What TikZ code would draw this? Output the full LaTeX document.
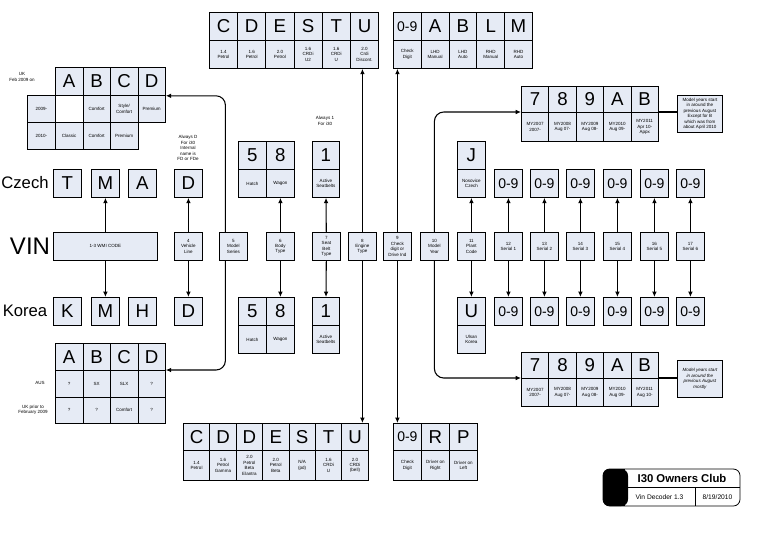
\documentclass[tikz,border=0pt]{standalone}
\usepackage{fontspec}
\setmainfont{Liberation Sans}
\usetikzlibrary{arrows.meta}
\definecolor{cfill}{HTML}{E6EBF5}
\tikzset{
 cell/.style={draw, fill=cfill, inner sep=0pt, anchor=north west, align=center, line width=0.6pt},
 bigt/.style={font=\fontsize{14}{14}\selectfont},
 numt/.style={font=\fontsize{10.5}{11}\selectfont},
 smt/.style={font=\fontsize{3.4}{4.1}\selectfont},
 lab/.style={align=center, inner sep=0pt, font=\fontsize{3.4}{4.1}\selectfont},
 arr/.style={line width=0.8pt, -{Latex[length=4pt,width=3.5pt]}},
 ln/.style={line width=0.8pt}
}
\newcommand\celB[6][bigt]{\node[cell,#1,minimum width=#4*0.75pt,minimum height=28*0.75pt] (#2) at (#3) {#5#6};}
\newcommand\celS[5]{\node[cell,smt,minimum width=#3*0.75pt,minimum height=#4*0.75pt] (#1) at (#2) {#5};}
\begin{document}
\begin{tikzpicture}[x=0.75pt,y=-0.75pt]
\useasboundingbox (0,0) rectangle (768,544);
% ---------- top engine table
\foreach \l/\d [count=\i from 0] in {C/{1.4\\Petrol},D/{1.6\\Petrol},E/{2.0\\Petrol},S/{1.6\\CRDi\\U2},T/{1.6\\CRDi\\U},U/{2.0\\Crdi\\Discont.}}{
 \celB{te\i}{{209+\i*28.2},12}{28.2}{}{\l}
 \celS{ted\i}{{209+\i*28.2},40}{28.2}{28}{\d}
}
% ---------- top check table
\foreach \l/\d/\s [count=\i from 0] in {0-9/{Check\\Digit}/numt,A/{LHD\\Manual}/bigt,B/{LHD\\Auto}/bigt,L/{RHD\\Manual}/bigt,M/{RHD\\Auto}/bigt}{
 \celB[\s]{tc\i}{{393+\i*27.8},12}{27.8}{}{\l}
 \celS{tcd\i}{{393+\i*27.8},40}{27.8}{28}{\d}
}
% ---------- UK table
\node[lab] (ukl) at (22,77) {UK\\Feb 2009 on};
\foreach \l [count=\i from 0] in {A,B,C,D}{\celB{uk\i}{{55+\i*27.5},67}{27.5}{}{\l}}
\celS{ukr0}{27,95}{28}{27}{2009-}
\celS{ukr1}{27,122}{28}{27}{2010-}
\node[cell,minimum width=27.5*0.75pt,minimum height=27*0.75pt,fill=white] (uka0) at (55,95) {};
\foreach \d [count=\i from 1] in {Comfort,{Style/\\Comfort},Premium}{\celS{uka\i}{{55+\i*27.5},95}{27.5}{27}{\d}}
\foreach \d [count=\i from 0] in {Classic,Comfort,Premium}{\celS{ukb\i}{{55+\i*27.5},122}{27.5}{27}{\d}}
% ---------- AUS table
\foreach \l [count=\i from 0] in {A,B,C,D}{\node[cell,bigt,minimum width=27.5*0.75pt,minimum height=27*0.75pt] (au\i) at ({55+\i*27.5},343) {\l};}
\foreach \d [count=\i from 0] in {?,SX,SLX,?}{\celS{aua\i}{{55+\i*27.5},370}{27.5}{26.5}{\d}}
\foreach \d [count=\i from 0] in {?,?,Comfort,?}{\celS{aub\i}{{55+\i*27.5},396.5}{27.5}{26.5}{\d}}
\node[lab] (ausl) at (40,383) {AUS};
\node[lab] (ukpl) at (33,410) {UK prior to\\February 2009};
% ---------- Czech / VIN / Korea
\node[font=\fontsize{12.5}{13}\selectfont] (czl) at (25,183) {Czech};
\node[font=\fontsize{18}{18}\selectfont] (vinl) at (30,246) {VIN};
\node[font=\fontsize{12.5}{13}\selectfont] (kol) at (25,311) {Korea};
\foreach \l/\x [count=\i] in {T/53,M/91,A/128,D/174}{\celB{cz\i}{\x,169}{28}{}{\l}}
\foreach \l/\x [count=\i] in {K/53,M/91,H/128,D/174}{\celB{ko\i}{\x,297}{28}{}{\l}}
\celS{wmi}{53,232}{104}{28}{1-3 WMI CODE}
% ---------- middle row
\foreach \n/\x/\t in {4/174/{4\\Vehicle\\Line},5/219/{5\\Model\\Series},6/266/{6\\Body\\Type},7/312/{7\\Seat\\Belt\\Type},8/348/{8\\Engine\\Type},9/383/{9\\Check\\digit or\\Drive Ind},10/420/{10\\Model\\Year},11/457/{11\\Plant\\Code},12/494/{12\\Serial 1},13/530/{13\\Serial 2},14/566/{14\\Serial 3},15/603/{15\\Serial 4},16/640/{16\\Serial 5},17/676/{17\\Serial 6}}{
 \celS{m\n}{\x,232}{28}{28}{\t}}
% ---------- body type / seat belt
\node[lab] (d4l) at (188,148) {Always D\\For i30\\Internal\\name is\\FD or FDe};
\node[lab] (s1l) at (325,121) {Always 1\\For i30};
\celB{bt5}{238,141}{28}{}{5} \celB{bt8}{266,141}{28}{}{8}
\celS{bt5d}{238,169}{28}{28}{Hatch} \celS{bt8d}{266,169}{28}{28}{Wagon}
\celB{sbt}{312,141}{27}{}{1} \celS{sbtd}{312,169}{27}{28}{Active\\Seatbelts}
\celB{bb5}{238,297}{28}{}{5} \celB{bb8}{266,297}{28}{}{8}
\celS{bb5d}{238,325}{28}{28}{Hatch} \celS{bb8d}{266,325}{28}{28}{Wagon}
\celB{sbb}{312,297}{27}{}{1} \celS{sbbd}{312,325}{27}{28}{Active\\Seatbelts}
% ---------- plant / serial
\celB{pj}{457,141}{28}{}{J} \celS{pjd}{457,169}{28}{28}{Nosovice\\Czech}
\celB{pu}{457,297}{28}{}{U} \celS{pud}{457,325}{28}{28}{Ulsan\\Korea}
\foreach \n/\x in {12/494,13/530,14/566,15/603,16/640,17/676}{
 \celB[numt]{st\n}{\x,169}{28}{}{0-9}
 \celB[numt]{sb\n}{\x,297}{28}{}{0-9}
 \draw[arr] (m\n) -- (st\n);
 \draw[arr] (m\n) -- (sb\n);
}
% ---------- model year tables
\foreach \l/\d [count=\i from 0] in {7/{MY2007\\2007-},8/{MY2008\\Aug 07-},9/{MY2009\\Aug 08-},A/{MY2010\\Aug 09-},B/{MY2011\\Apr 10-\\Appx}}{
 \node[cell,bigt,minimum width=27.4*0.75pt,minimum height=26*0.75pt] (my\i) at ({521+\i*27.4},86) {\l};
 \celS{myd\i}{{521+\i*27.4},112}{27.4}{29}{\d}}
\foreach \l/\d [count=\i from 0] in {7/{MY2007\\2007-},8/{MY2008\\Aug 07-},9/{MY2009\\Aug 08-},A/{MY2010\\Aug 09-},B/{MY2011\\Aug 10-}}{
 \node[cell,bigt,minimum width=27.4*0.75pt,minimum height=26*0.75pt] (mb\i) at ({521+\i*27.4},352) {\l};
 \celS{mbd\i}{{521+\i*27.4},378}{27.4}{28}{\d}}
\celS{myn}{677,95}{45}{37}{Model years start\\in around the\\previous August\\Except for B\\which was from\\about April 2010}
\celS{mbn}{677,360}{45}{37}{\itshape Model years start\\\itshape in around the\\\itshape previous August\\\itshape mostly}
\draw[ln] (myd4.north east) -- (myd4.north east -| myn.west);
\draw[ln] (mbd4.north east) -- (mbd4.north east -| mbn.west);
% ---------- bottom engine / check tables
\foreach \l/\d [count=\i from 0] in {C/{1.4\\Petrol},D/{1.6\\Petrol\\Gamma},D/{2.0\\Petrol\\Beta\\Elantra},E/{2.0\\Petrol\\Beta},S/{N/A\\(pd)},T/{1.6\\CRDi\\U},U/{2.0\\CRDi\\(bell)}}{
 \node[cell,bigt,minimum width=26.4*0.75pt,minimum height=27*0.75pt] (be\i) at ({183+\i*26.4},423) {\l};
 \celS{bed\i}{{183+\i*26.4},450}{26.4}{30}{\d}}
\foreach \l/\d/\s [count=\i from 0] in {0-9/{Check\\Digit}/numt,R/{Driver on\\Right}/bigt,P/{Driver on\\Left}/bigt}{
 \node[cell,\s,minimum width=28*0.75pt,minimum height=27*0.75pt] (bc\i) at ({393+\i*28},423) {\l};
 \celS{bcd\i}{{393+\i*28},450}{28}{30}{\d}}
% ---------- connectors
\draw[arr] (wmi.north -| cz2) -- (cz2);
\draw[arr] (wmi.south -| ko2) -- (ko2);
\draw[arr] (m4) -- (cz4);
\draw[arr] (m4) -- (ko4);
\draw[arr] (m6) -- (bt8d);
\draw[arr] (m6) -- (bb8);
\draw[arr] (m7) -- (sbtd);
\draw[arr] (m7) -- (sbb);
\draw[arr] (m11) -- (pjd);
\draw[arr] (m11) -- (pu);
\coordinate (m5t) at ([xshift=-6pt]m5.north);
\coordinate (m5b) at ([xshift=-6pt]m5.south);
\draw[arr,rounded corners=7pt] (m5t) |- (uk3.south east);
\draw[arr,rounded corners=7pt] (m5b) |- (aua3.north east);
\draw[arr] (m8.north) -- (m8.north |- ted5.south);
\draw[arr] (m8.south) -- (m8.south |- be6.north);
\draw[arr] (m9.north) -- (m9.north |- tcd0.south);
\draw[arr] (m9.south) -- (m9.south |- bc0.north);
\draw[arr,rounded corners=7pt] (m10.north) |- (myd0.north west);
\draw[arr,rounded corners=7pt] (m10.south) |- (mbd0.north west);
% ---------- title block
\draw[line width=0.6pt, rounded corners=5pt] (603,469) rectangle (740,506);
\fill[rounded corners=5pt] (603,469) rectangle (628,506);
\fill (618,469) rectangle (624,506);
\draw[line width=0.6pt] (624,469) -- (624,506);
\draw[line width=0.6pt] (624,487) -- (740,487);
\draw[line width=0.6pt] (695,487) -- (695,506);
\node[font=\bfseries\fontsize{8.5}{9}\selectfont] (tt) at (682,478) {I30 Owners Club};
\node[font=\fontsize{5}{6}\selectfont] (tv) at (659.5,497) {Vin Decoder 1.3};
\node[font=\fontsize{5}{6}\selectfont] (td) at (717.5,497) {8/19/2010};
\end{tikzpicture}
\end{document}
